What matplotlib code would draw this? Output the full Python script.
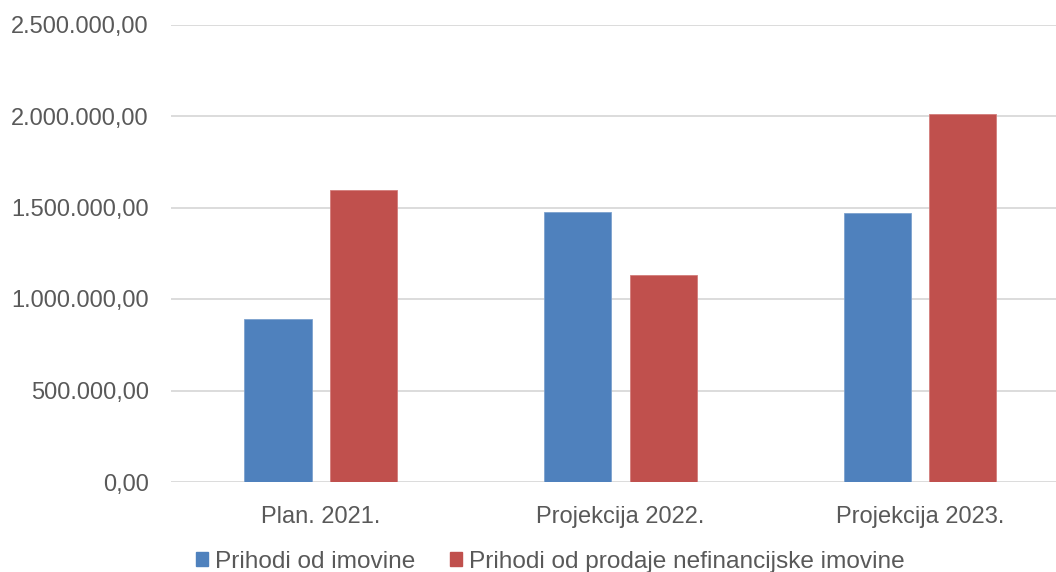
import numpy as np
import matplotlib.pyplot as plt
from matplotlib.patches import Patch
from matplotlib.ticker import FuncFormatter, MultipleLocator

plt.rcParams['font.family'] = ['Liberation Sans', 'DejaVu Sans']

categories = ['Plan. 2021.', 'Projekcija 2022.', 'Projekcija 2023.']
imovina = [890000, 1474000, 1468000]
prodaja = [1598000, 1129000, 2011000]
labels = ['Prihodi od imovine', 'Prihodi od prodaje nefinancijske imovine']
blue = '#4F81BD'
red = '#C0504D'
txt = '#595959'

fig = plt.figure(figsize=(10.56, 5.72), dpi=100)
ax = fig.add_axes([171 / 1056, 1 - 482 / 572, 1 - 171 / 1056, (482 - 24.5) / 572])

x = np.arange(len(categories))
w = 0.224
ax.bar(x - 0.143, imovina, w, color=blue, edgecolor='#7DA2CE', linewidth=0.6, zorder=3)
ax.bar(x + 0.143, prodaja, w, color=red, edgecolor='#D27D7B', linewidth=0.6, zorder=3)

ax.set_xlim(-0.5, (1056 - 321) / 299.5)
ax.set_ylim(0, 2500000)
ax.yaxis.set_major_locator(MultipleLocator(500000))


def hr(v, pos):
    return f"{v:,.2f}".replace(',', 'X').replace('.', ',').replace('X', '.')


ax.yaxis.set_major_formatter(FuncFormatter(hr))
ax.grid(axis='y', color='#D9D9D9', linewidth=1.3, zorder=0)
for s in ax.spines.values():
    s.set_visible(False)
ax.set_xticks(x)
ax.set_xticklabels(categories)
ax.tick_params(axis='both', length=0, labelsize=17, colors=txt)
ax.tick_params(axis='y', pad=16)
ax.tick_params(axis='x', pad=17)

handles = [Patch(color=blue), Patch(color=red)]
fig.legend(handles, labels, loc='center', bbox_to_anchor=(0.521, 1 - 562 / 572), ncol=2,
           frameon=False, fontsize=17.6, handlelength=0.5, handleheight=0.5,
           handletextpad=0.3, columnspacing=1.4, labelcolor=txt)

fig.savefig('out.png', dpi=100)
